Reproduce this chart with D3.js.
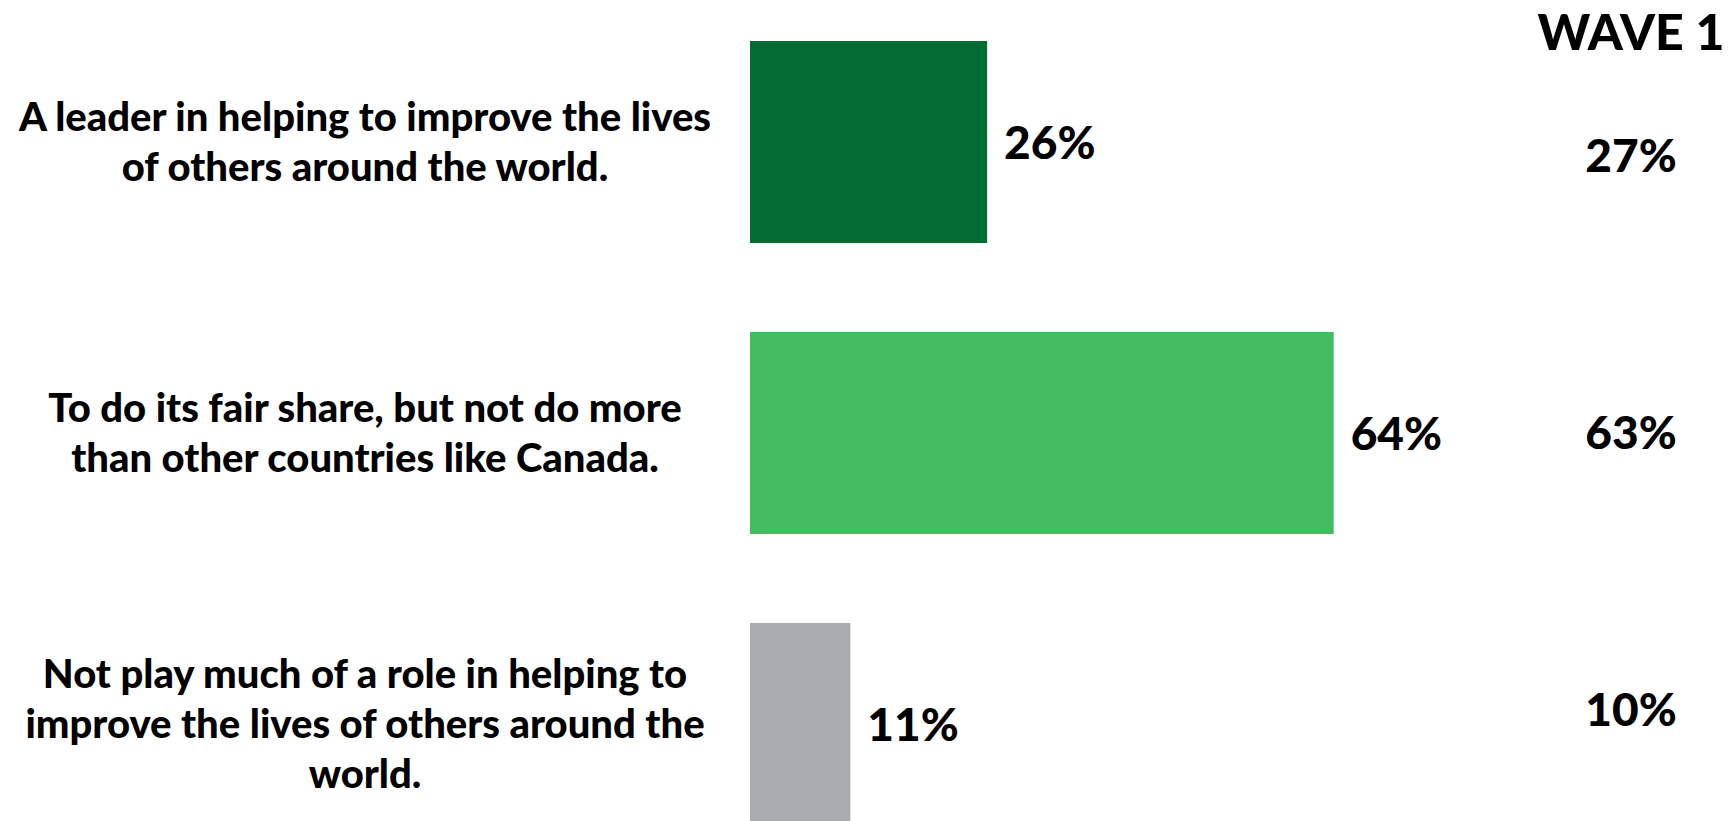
<!DOCTYPE html>
<html>
<head>
<meta charset="utf-8">
<script src="https://cdn.jsdelivr.net/npm/d3@7"></script>
<style>
  html, body { margin: 0; padding: 0; background: #ffffff; }
  svg { display: block; }
  text { font-family: Lato, "Open Sans", sans-serif; font-weight: 900; fill: #000; }
</style>
</head>
<body>
<svg id="chart" width="1734" height="821"></svg>
<script>
// Survey responses: what role should Canada play in the world
const categories = [
  "A leader in helping to improve the lives\nof others around the world.",
  "To do its fair share, but not do more\nthan other countries like Canada.",
  "Not play much of a role in helping to\nimprove the lives of others around the\nworld."
];
const currentValues = [26, 64, 11];
const wave1Values = [27, 63, 10];
const barColors = ["#036b34", "#42bc5f", "#a9acac"];
const wave1Title = "WAVE 1";

const svg = d3.select("#chart");

// horizontal value scale and row bands (step 291, bar height 202)
const x = d3.scaleLinear().domain([0, 100]).range([750, 1662]);
const y = d3.scaleBand()
  .domain(categories)
  .range([41, 41 + 2 * 291 + 202])
  .paddingInner(89 / 291)
  .paddingOuter(0);

const bars = svg.append("g");
bars.selectAll("rect")
  .data(categories)
  .join("rect")
  .attr("x", x(0))
  .attr("y", d => y(d))
  .attr("width", (d, i) => x(currentValues[i]) - x(0))
  .attr("height", y.bandwidth())
  .attr("fill", (d, i) => barColors[i]);

// value labels at bar ends
bars.selectAll("text.val")
  .data(categories)
  .join("text")
  .attr("class", "val")
  .attr("x", (d, i) => x(currentValues[i]) + 17)
  .attr("y", d => y(d) + y.bandwidth() / 2)
  .attr("dy", "0.36em")
  .style("font-size", "46px")
  .text((d, i) => currentValues[i] + "%");

// category labels, centred in the left column
const labelX = 365;
const lineH = 50;
const labels = svg.append("g");
categories.forEach((c, i) => {
  const lines = c.split("\n");
  const cy = y(c) + y.bandwidth() / 2;
  const t = labels.append("text")
    .attr("text-anchor", "middle")
    .style("font-size", "40px");
  lines.forEach((ln, j) => {
    t.append("tspan")
      .attr("x", labelX)
      .attr("y", cy + (j - (lines.length - 1) / 2) * lineH)
      .attr("dy", "0.36em")
      .text(ln);
  });
});

// previous wave column
const waveX = 1631;
const yWave = d3.scalePoint().domain(categories).range([155, 709]);
svg.append("text")
  .attr("x", waveX)
  .attr("y", 50)
  .attr("text-anchor", "middle")
  .style("font-size", "50px")
  .text(wave1Title);

svg.append("g").selectAll("text")
  .data(categories)
  .join("text")
  .attr("x", waveX)
  .attr("y", d => yWave(d))
  .attr("dy", "0.36em")
  .attr("text-anchor", "middle")
  .style("font-size", "46px")
  .text((d, i) => wave1Values[i] + "%");
</script>
</body>
</html>
